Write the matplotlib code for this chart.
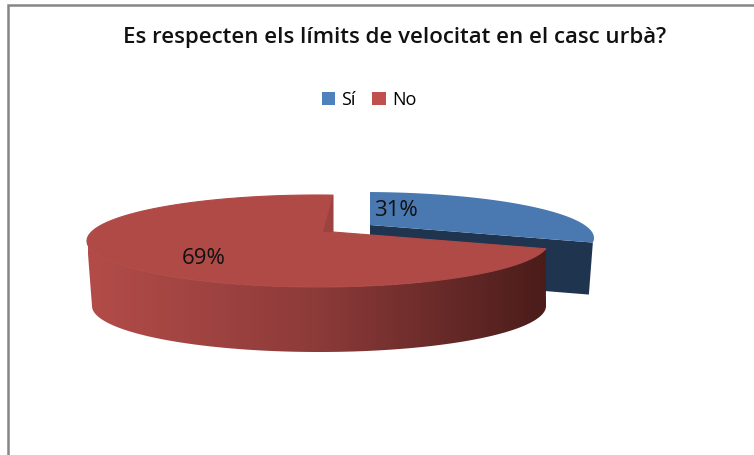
import numpy as np
import matplotlib
matplotlib.use("Agg")
import matplotlib.pyplot as plt
from matplotlib.patches import Polygon, Patch
from matplotlib.colors import LinearSegmentedColormap

title = "Es respecten els límits de velocitat en el casc urbà?"
categories = ["Sí", "No"]
values = [31, 69]
top_colors = ["#4a78b0", "#b04a47"]
legend_colors = ["#4f81bd", "#c0504d"]
dark_blue = "#1f344f"
wall_colors = ["#b34c49", "#8c3b39", "#4a1c1a"]
facet_color = "#9c423f"

plt.rcParams["font.family"] = ["Open Sans", "DejaVu Sans"]
fig = plt.figure(figsize=(7.54, 4.55), dpi=100, facecolor="white")
ax = fig.add_axes([0, 0, 1, 1])
ax.set_xlim(0, 754)
ax.set_ylim(455, 0)
ax.axis("off")

# geometry of the two slices (pixels): apex, ellipse centre, radii, depth
blue = dict(apex=(370, 225), c=(363, 238), a=231, b=46, depth=52)
red = dict(apex=(333, 232), c=(318, 241), a=231, b=46, depth=65)
bottom = dict(c=(319, 306), a=227, b=46)


def ray_param(g, theta):
    """Elliptic parameter where the slice edge at theta leaves the apex and meets the rim."""
    ux = (g["apex"][0] - g["c"][0]) / g["a"]
    uy = (g["apex"][1] - g["c"][1]) / g["b"]
    dx, dy = np.sin(theta), -np.cos(theta)
    p = ux * dx + uy * dy
    s = -p + np.sqrt(p * p + 1 - ux * ux - uy * uy)
    return np.arctan2(ux + s * dx, -(uy + s * dy))


def arc(g, t0, t1, n=200):
    t = np.linspace(t0, t1, n)
    return np.column_stack([g["c"][0] + g["a"] * np.sin(t), g["c"][1] - g["b"] * np.cos(t)])


fracs = np.cumsum([0] + values) / sum(values) * 2 * np.pi

# blue slice
tb0, tb1 = ray_param(blue, fracs[0]), ray_param(blue, fracs[1])
blue_rim = arc(blue, tb0, tb1)
corner = blue_rim[-1]
ax.add_patch(Polygon([blue["apex"], corner, (corner[0] - 4, corner[1] + blue["depth"]),
                      (blue["apex"][0], blue["apex"][1] + blue["depth"])],
                     fc=dark_blue, ec="none", zorder=2))
ax.add_patch(Polygon(np.vstack([[blue["apex"]], blue_rim]), fc=top_colors[0], ec="none", zorder=3))

# red slice: wall with a horizontal gradient, then the top
tr0 = ray_param(red, fracs[1])
tr1 = ray_param(red, fracs[2]) % (2 * np.pi)
wall_top = arc(red, tr0, 1.5 * np.pi)
wall_bot = arc(bottom, 0.5 * np.pi, 1.5 * np.pi)
wall = Polygon(np.vstack([wall_top, wall_bot[::-1]]), fc="none", ec="none", transform=ax.transData)
ax.add_patch(wall)
cmap = LinearSegmentedColormap.from_list("wall", wall_colors)
im = ax.imshow(np.linspace(0, 1, 256)[None, :], cmap=cmap, aspect="auto",
               extent=(88, 548, 360, 240), zorder=4, interpolation="bilinear")
im.set_clip_path(wall)
ax.set_xlim(0, 754)
ax.set_ylim(455, 0)
red_rim = arc(red, tr0, tr1 if tr1 > tr0 else tr1 + 2 * np.pi, 400)
ax.add_patch(Polygon(np.vstack([[red["apex"]], red_rim]), fc=top_colors[1], ec=top_colors[1], lw=0.8, zorder=5))
ax.add_patch(Polygon([red["apex"], red_rim[-1], (red["apex"][0] - 10, red["apex"][1])],
                     fc=facet_color, ec="none", zorder=6))

# data labels
ax.text(396, 211, f"{values[0]}%", ha="center", va="center", fontsize=16, color="#111111", zorder=7)
ax.text(204, 258, f"{values[1]}%", ha="center", va="center", fontsize=16, color="#111111", zorder=7)

# title and legend
ax.text(395, 38, title, ha="center", va="center", fontsize=16, fontweight="semibold", color="#111111")
handles = [Patch(fc=c, ec="none", label=l) for c, l in zip(legend_colors, categories)]
fig.legend(handles=handles, ncol=2, loc="center", bbox_to_anchor=(369 / 754, 1 - 100 / 455),
           frameon=False, fontsize=13, handlelength=0.75, handleheight=0.75, handletextpad=0.35,
           columnspacing=0.9, borderpad=0)

# frame of the screenshot
ax.plot([8, 8, 754], [455, 5, 5], color="#868686", lw=1.8, solid_joinstyle="miter", zorder=1)

fig.savefig("out.png", dpi=100, facecolor="white")
